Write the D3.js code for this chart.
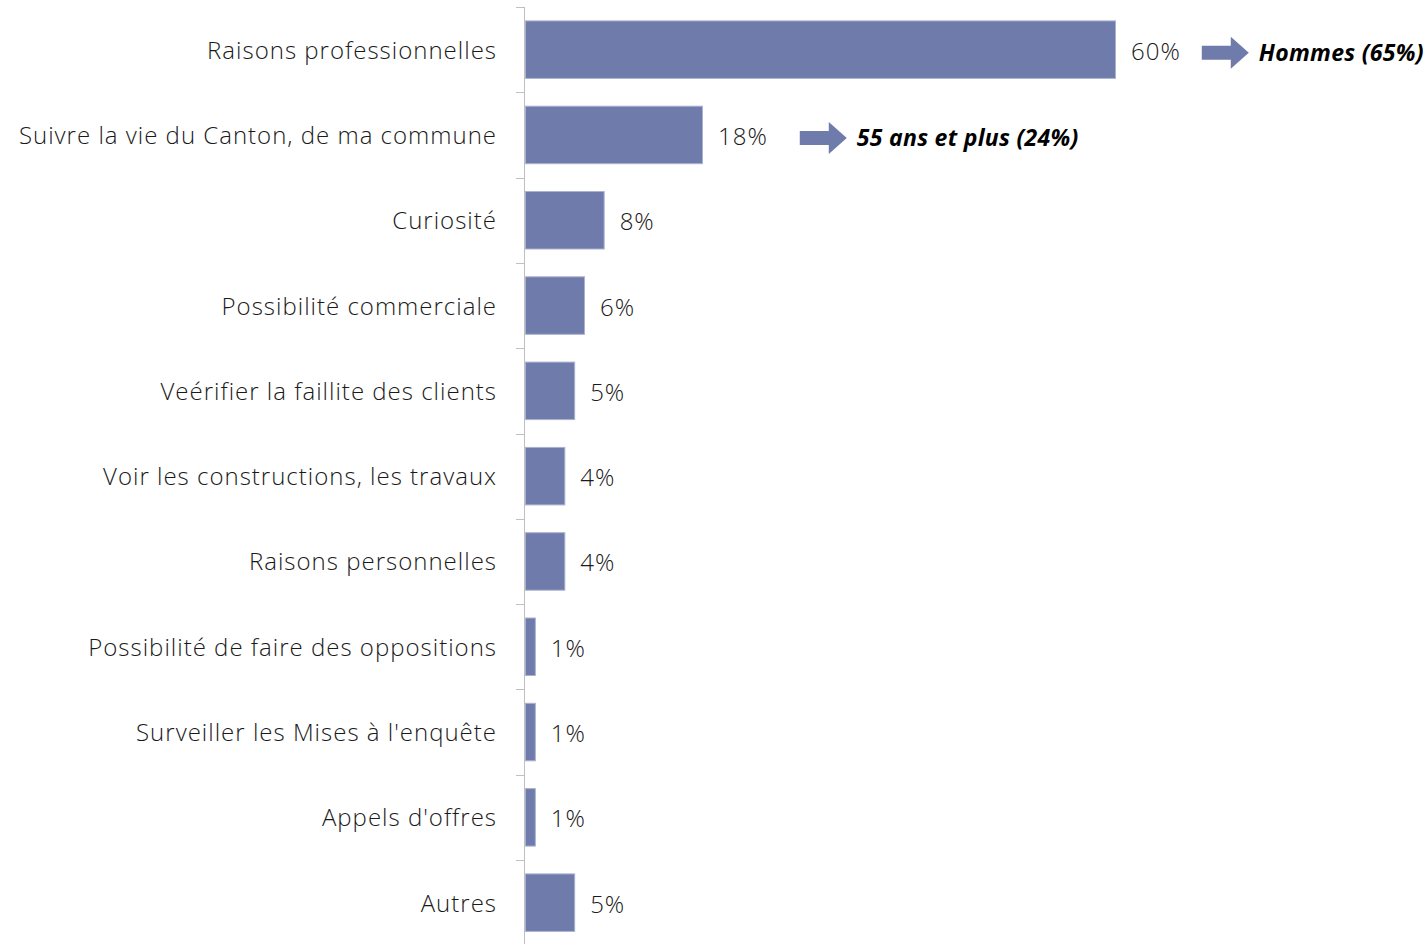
<!DOCTYPE html>
<html>
<head>
<meta charset="utf-8">
<script src="https://cdn.jsdelivr.net/npm/d3@7"></script>
<style>
  html, body { margin: 0; padding: 0; background: #fff; }
  svg { display: block; font-family: "Open Sans", Lato, sans-serif; }
</style>
</head>
<body>
<svg class="chart"></svg>
<script>
const categories = [
  'Raisons professionnelles',
  'Suivre la vie du Canton, de ma commune',
  'Curiosité',
  'Possibilité commerciale',
  'Veérifier la faillite des clients',
  'Voir les constructions, les travaux',
  'Raisons personnelles',
  'Possibilité de faire des oppositions',
  'Surveiller les Mises à l\'enquête',
  'Appels d\'offres',
  'Autres'
];
const values = [60, 18, 8, 6, 5, 4, 4, 1, 1, 1, 5];
const highlightCategories = ['Raisons professionnelles', 'Suivre la vie du Canton, de ma commune'];
const highlightTexts = ['Hommes (65%)', '55 ans et plus (24%)'];

const [width, height] = [1428, 944];
const barColor = '#6f7cab';
const svg = d3.select('.chart').attr('width', width).attr('height', height);

const x = d3.scaleLinear().domain([0, 60]).range([525, 1115]);
const y = d3.scaleBand().domain(categories).range([7, 7 + 11 * 85.3])
  .paddingInner(0.326).paddingOuter(0.163);

const data = categories.map((name, i) => ({ name, value: values[i] }));

// axis line + ticks between bands
const axis = svg.append('g');
axis.append('line')
  .attr('x1', 524.5).attr('x2', 524.5).attr('y1', 7).attr('y2', height)
  .attr('stroke', '#bfbfbf').attr('stroke-width', 1);
axis.selectAll('.tick')
  .data(d3.range(categories.length))
  .enter()
  .append('line')
  .attr('x1', 516).attr('x2', 524.5)
  .attr('y1', (i) => Math.round(y.range()[0] + i * y.step()) + 0.5)
  .attr('y2', (i) => Math.round(y.range()[0] + i * y.step()) + 0.5)
  .attr('stroke', '#bfbfbf');

svg.append('g')
  .selectAll('rect')
  .data(data)
  .enter()
  .append('rect')
  .attr('x', x(0) + 0.5)
  .attr('y', (d) => y(d.name))
  .attr('width', (d) => x(d.value) - x(0))
  .attr('height', y.bandwidth())
  .attr('fill', barColor)
  .attr('stroke', '#aab2cf')
  .attr('stroke-width', 1);

svg.append('g')
  .selectAll('text')
  .data(data)
  .enter()
  .append('text')
  .attr('x', 497)
  .attr('y', (d) => y(d.name) + y.bandwidth() / 2 + 9)
  .attr('text-anchor', 'end')
  .attr('font-size', 24)
  .attr('font-weight', 300)
  .attr('letter-spacing', 1)
  .attr('fill', '#1a1a1a')
  .text((d) => d.name);

const valueLabels = svg.append('g')
  .selectAll('text')
  .data(data)
  .enter()
  .append('text')
  .attr('x', (d) => x(d.value) + 16)
  .attr('y', (d) => y(d.name) + y.bandwidth() / 2 + 10)
  .attr('font-size', 24)
  .attr('font-weight', 300)
  .attr('letter-spacing', 1)
  .attr('fill', '#1a1a1a')
  .text((d) => `${d.value}%`);

// arrows with bold italic callouts
const arrowGaps = [21, 32];
highlightCategories.forEach((name, i) => {
  const label = valueLabels.filter((e) => e.name === name).node();
  const box = label.getBBox();
  const x0 = box.x + box.width + arrowGaps[i];
  const cy = y(name) + y.bandwidth() / 2 + 3;
  const path = d3.path();
  path.moveTo(x0, cy - 7);
  path.lineTo(x0 + 29, cy - 7);
  path.lineTo(x0 + 29, cy - 16);
  path.lineTo(x0 + 47, cy);
  path.lineTo(x0 + 29, cy + 16);
  path.lineTo(x0 + 29, cy + 7);
  path.lineTo(x0, cy + 7);
  path.closePath();
  svg.append('path').attr('d', path.toString()).attr('fill', barColor);
  svg.append('text')
    .attr('x', x0 + 57)
    .attr('y', cy + 8)
    .attr('font-size', 23)
    .attr('font-weight', 'bold')
    .attr('font-style', 'italic')
    .attr('letter-spacing', 0.3)
    .attr('fill', '#000')
    .text(highlightTexts[i]);
});
</script>
</body>
</html>
